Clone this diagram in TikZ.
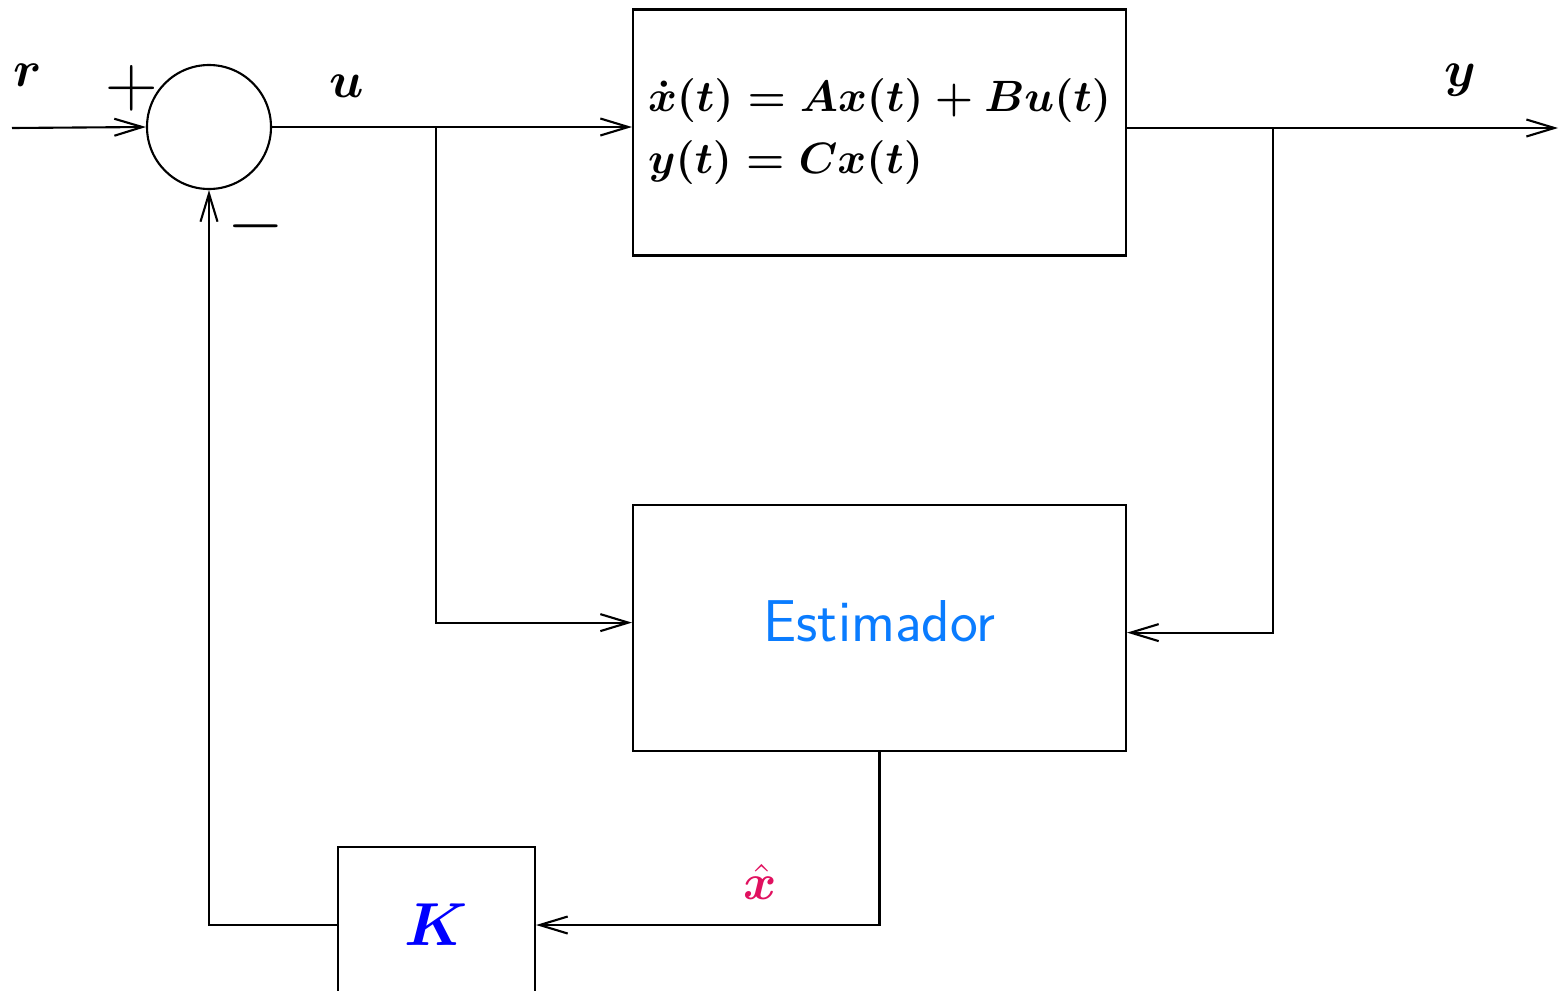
\documentclass[tikz,border=0pt]{standalone}
\usepackage{graphicx}
\usepackage{bm}
\usetikzlibrary{arrows.meta,positioning}
\definecolor{estblue}{HTML}{0A7CFF}
\definecolor{hatred}{HTML}{E0115F}
\definecolor{gainblue}{HTML}{0000FF}

\begin{document}
\begin{tikzpicture}[
    line width=0.6pt,
    block/.style={
        draw,
        minimum width=4.93cm,
        minimum height=2.46cm,
        inner sep=0pt
    },
    summer/.style={
        draw,
        circle,
        minimum size=1.24cm,
        inner sep=0pt
    },
    gain/.style={
        draw,
        minimum width=1.97cm,
        minimum height=1.56cm
    },
    sig/.style={font=\Large},
    arrow/.style={-{Straight Barb[length=2.8mm,width=1.7mm]}}
]
    \useasboundingbox (0,0) rectangle (15.6,-9.9);

    \coordinate (in) at (0.12,-1.28);
    \node[summer] (sum) at (2.09,-1.27) {};
    \node[block, align=left, font=\large\boldmath] (plant) at (8.795,-1.325)
        {\raisebox{3.5pt}{\scalebox{1.04}{$\dot{x}(t) = Ax(t) + Bu(t)$}}\\[3.7pt]
         \raisebox{3.5pt}{\scalebox{1.04}{$y(t) = Cx(t)$}}};
    \node[block, below=2.47cm of plant, font=\fontsize{16.8}{20}\selectfont\sffamily, text=estblue] (est)
        {\raisebox{4pt}{Estimador}};
    \node[gain, font=\LARGE, text=gainblue] (gain) at (4.365,-9.25)
        {$\bm{K}$};

    % signal labels
    \node[sig] (rlabel) at (0.28,-0.75) {$\bm{r}$};
    \node[font=\huge] (plus) at (1.32,-0.88) {$+$};
    \node[font=\huge] (minus) at (2.56,-2.26) {$-$};
    \node[sig] (ulabel) at (3.47,-0.86) {$\bm{u}$};
    \node[sig] (ylabel) at (14.6,-0.80) {$\bm{y}$};
    \node[sig, text=hatred] (xhat) at (7.6,-8.82) {$\hat{\bm{x}}$};

    \coordinate (ubranch) at (4.36,-1.28);
    \coordinate (ybranch) at (12.73,-1.28);
    \coordinate (out) at (15.58,-1.28);

    \draw[arrow] (in) -- (sum.west);
    \draw[arrow] (sum.east) -- (sum.east -| plant.west);
    \draw[arrow] (ubranch) |- ([yshift=0.05cm]est.west);
    \draw[arrow] (out -| plant.east) -- (out);
    \draw[arrow] (ybranch) |- ([yshift=-0.05cm]est.east);
    \draw[arrow] (est.south) |- (gain.east);
    \draw[arrow] (gain.west) -| (sum.south);
\end{tikzpicture}
\end{document}
